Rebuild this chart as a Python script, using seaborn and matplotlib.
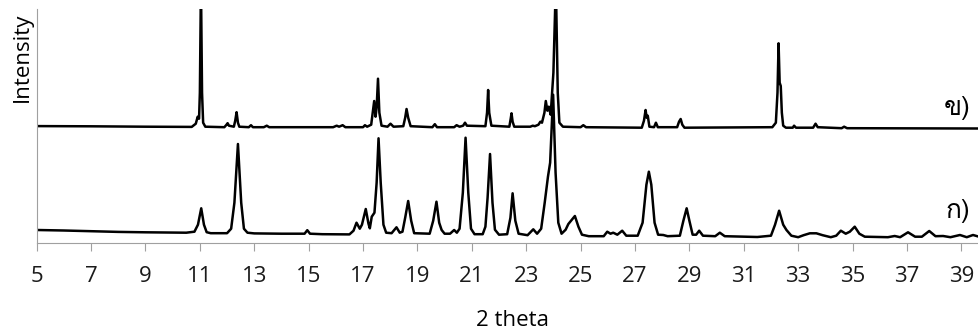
import numpy as np
import pandas as pd
import matplotlib
matplotlib.use("Agg")
import matplotlib.pyplot as plt
import seaborn as sns
from matplotlib import font_manager
from matplotlib.ft2font import FT2Font

# ---------------- data (2 theta, intensity in arbitrary units) ----------------
top_x = [5.0, 7.0, 9.0, 10.7, 10.85, 10.92, 10.97, 11.0, 11.04, 11.08, 11.12, 11.2,
         11.9, 11.98, 12.02, 12.07, 12.25, 12.3, 12.35, 12.4, 12.45, 12.8, 12.88, 12.95,
         13.35, 13.46, 13.55, 15.9, 16.03, 16.12, 16.25, 16.35, 17.0, 17.07, 17.15, 17.3,
         17.41, 17.46, 17.5, 17.55, 17.6, 17.68, 17.9, 18.01, 18.12, 18.48, 18.55, 18.6,
         18.66, 18.75, 19.55, 19.64, 19.72, 20.35, 20.44, 20.55, 20.68, 20.75, 20.82, 21.5,
         21.56, 21.6, 21.64, 21.67, 21.72, 22.38, 22.43, 22.46, 22.5, 22.56, 23.15, 23.24,
         23.32, 23.45, 23.52, 23.58, 23.67, 23.72, 23.78, 23.83, 23.9, 24.0, 24.09, 24.16,
         24.22, 24.35, 25.0, 25.1, 25.2, 27.25, 27.33, 27.39, 27.43, 27.47, 27.53, 27.7,
         27.77, 27.84, 28.55, 28.62, 28.68, 28.74, 28.82, 32.05, 32.18, 32.24, 32.28, 32.32,
         32.36, 32.4, 32.45, 32.55, 32.8, 32.85, 32.92, 33.55, 33.64, 33.72, 34.6, 34.69,
         34.8, 39.65]
top_y = [116.6, 116.4, 116.0, 115.8, 119, 126, 124, 150, 260, 150, 120, 116,
         115.5, 118, 119.5, 117, 116, 122, 130.5, 120, 116, 115.5, 117.5, 115.5,
         115.5, 117, 115.5, 115.5, 117, 116, 117.5, 115.5, 115.5, 117.5, 116, 118,
         141.7, 126, 135, 164, 130, 117, 116, 119, 116, 116.5, 125, 133.7,
         125, 116.5, 115.5, 118.5, 115.5, 115.5, 117.5, 116, 117, 120, 117, 116.5,
         130, 152.7, 130, 125, 117, 116, 124, 129.4, 121, 116, 116, 117,
         116.5, 118, 121, 120, 130, 141.7, 132, 136, 128, 170, 260, 150,
         120, 116, 115.5, 117.5, 115.5, 115, 122, 132.7, 125, 127, 116, 115.5,
         120, 115.5, 115.5, 121, 123.7, 118, 115, 115.5, 120, 150, 199.4, 160,
         156.7, 130, 117, 115, 115, 117, 115, 115, 119, 115.5, 114.5, 116,
         114.5, 114.2]

bottom_x = [5.0, 6.0, 7.0, 8.0, 9.0, 10.5, 10.8, 10.93, 11.05, 11.15, 11.25, 11.4,
            12.0, 12.15, 12.27, 12.4, 12.52, 12.62, 12.75, 13.0, 14.0, 14.85, 14.95, 15.05,
            15.5, 16.5, 16.65, 16.76, 16.88, 16.96, 17.1, 17.2, 17.25, 17.32, 17.42, 17.5,
            17.57, 17.65, 17.75, 17.85, 18.05, 18.23, 18.35, 18.45, 18.55, 18.66, 18.77, 18.88,
            19.45, 19.58, 19.7, 19.8, 19.89, 20.0, 20.2, 20.35, 20.45, 20.55, 20.67, 20.77,
            20.87, 20.97, 21.1, 21.4, 21.5, 21.58, 21.67, 21.76, 21.85, 22.0, 22.3, 22.42,
            22.5, 22.6, 22.72, 23.05, 23.26, 23.4, 23.55, 23.68, 23.8, 23.88, 23.99, 24.08,
            24.18, 24.3, 24.45, 24.55, 24.65, 24.79, 24.92, 25.05, 25.3, 25.85, 25.98, 26.1,
            26.2, 26.35, 26.53, 26.68, 27.1, 27.28, 27.42, 27.51, 27.6, 27.72, 27.85, 28.04,
            28.2, 28.65, 28.78, 28.9, 29.0, 29.12, 29.25, 29.36, 29.5, 29.95, 30.12, 30.3,
            31.5, 32.0, 32.15, 32.3, 32.45, 32.57, 32.75, 33.0, 33.2, 33.43, 33.67, 33.9,
            34.2, 34.4, 34.57, 34.75, 34.9, 35.08, 35.25, 35.45, 36.3, 36.55, 36.75, 37.04,
            37.3, 37.55, 37.82, 38.05, 38.33, 38.6, 38.95, 39.2, 39.43, 39.65]
bottom_y = [12.7, 12.2, 11.5, 10.8, 10.4, 10.0, 11, 18, 34.4, 18, 10.5, 9.5,
            9.5, 14, 40, 98.7, 40, 14, 10, 9.3, 9.0, 9, 12.5, 9,
            8.5, 8.3, 12, 20, 14, 18, 33.7, 19, 14.4, 26, 30, 60,
            104.4, 60, 18, 10, 9.5, 15.4, 10, 11, 25, 41.7, 22, 9.5,
            9, 22, 41, 20, 12.7, 9, 9, 12.7, 10, 14, 50, 105,
            50, 14, 8.5, 8.5, 16, 45, 88.7, 40, 13, 8, 8.5, 25,
            49.4, 22, 9, 7.5, 13.4, 9, 14, 40, 66, 80, 148, 70,
            20, 9, 13, 18.7, 22, 26.7, 16, 8, 6.5, 6.5, 11, 9,
            10, 8, 12, 7, 7, 20, 58, 71, 58, 20, 8, 7.7,
            6.5, 7, 22, 34.4, 22, 8, 8, 12, 7, 6.5, 10, 6.5,
            5.7, 7, 18, 32, 18, 12.7, 7, 5.5, 7.5, 9.4, 9.4, 7.5,
            5.5, 7, 12, 9, 11, 16, 9, 6, 5.5, 6.7, 5.5, 10.4,
            6, 6, 11.7, 6.5, 6.7, 5.5, 7.7, 5.5, 7.7, 6]

series_labels = ["ข)", "ก)"]
label_y = [135, 32]
x_ticks = list(range(5, 40, 2))
x_label = "2 theta"
y_label = "Intensity"

# ---------------- fonts ----------------
def find_font_with(char):
    code = ord(char)
    for f in font_manager.fontManager.ttflist:
        try:
            ft = FT2Font(f.fname)
            if ft.get_char_index(code):
                return f.name
        except Exception:
            continue
    return "DejaVu Sans"

thai_font = find_font_with("ข")

sns.set_theme(style="white")
plt.rcParams["font.family"] = ["Open Sans", "DejaVu Sans"]

df = pd.concat([
    pd.DataFrame({"two_theta": top_x, "intensity": top_y, "sample": series_labels[0]}),
    pd.DataFrame({"two_theta": bottom_x, "intensity": bottom_y, "sample": series_labels[1]}),
])

fig = plt.figure(figsize=(9.79, 3.32), dpi=100)
ax = fig.add_axes([36.7 / 979, 89.3 / 332, 1 - 36.7 / 979, (242.7 - 9) / 332])

sns.lineplot(data=df, x="two_theta", y="intensity", units="sample", estimator=None,
             sort=False, color="black", linewidth=1.8, ax=ax, legend=False)

ax.set_xlim(5, 39.65)
ax.set_ylim(0, 233.7)
ax.set_xticks(x_ticks)
ax.set_xticklabels([str(t) for t in x_ticks])
ax.set_yticks([])
ax.set_xlabel("")
ax.set_ylabel("")
ax.tick_params(axis="x", direction="out", length=6, width=0.8, color="#A0A0A0",
               pad=11, labelsize=16, labelcolor="#1a1a1a", bottom=True)
for side in ["top", "right"]:
    ax.spines[side].set_visible(False)
for side in ["left", "bottom"]:
    ax.spines[side].set_color("#A0A0A0")
    ax.spines[side].set_linewidth(0.8)

for lab, yy in zip(series_labels, label_y):
    ax.text(39.32, yy, lab, ha="right", va="center", fontsize=19,
            family=[thai_font, "DejaVu Sans"], color="black")

fig.text(22 / 979, 1 - 57 / 332, y_label, rotation=90, ha="center", va="center",
         fontsize=16, color="black")
fig.text(513 / 979, 1 - 321 / 332, x_label, ha="center", va="center",
         fontsize=16, color="black")

fig.savefig("out.png", dpi=100)
